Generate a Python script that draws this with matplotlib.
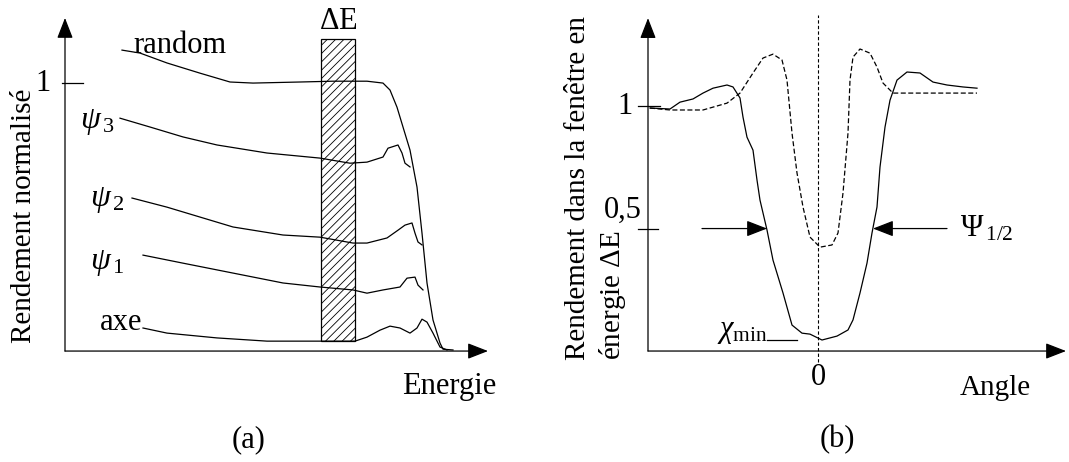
import numpy as np
import matplotlib
matplotlib.use('Agg')
import matplotlib.pyplot as plt
from matplotlib.patches import Rectangle

plt.rcParams['font.family'] = ['Liberation Serif', 'DejaVu Serif']
plt.rcParams['mathtext.fontset'] = 'custom'
plt.rcParams['mathtext.rm'] = 'Liberation Serif'
plt.rcParams['mathtext.it'] = 'Liberation Serif:italic'
plt.rcParams['hatch.linewidth'] = 0.6

# (a) energy spectra, energy in arbitrary units, yield normalised to random
E_random = [57, 75, 102, 135, 165, 188, 235, 268, 302, 318, 325, 332, 338, 345, 352, 357, 362, 368, 375, 378, 388]
Y_random = [1.123, 1.112, 1.075, 1.037, 1.004, 1.0, 1.004, 1.007, 1.007, 1.0, 0.974, 0.910, 0.836, 0.750,
            0.612, 0.440, 0.254, 0.116, 0.030, 0.007, 0.004]
E_psi3 = [55, 85, 118, 152, 202, 255, 285, 302, 318, 323, 333, 337, 340, 345]
Y_psi3 = [0.869, 0.836, 0.799, 0.769, 0.739, 0.720, 0.701, 0.705, 0.724, 0.757, 0.769, 0.739, 0.701, 0.687]
E_psi2 = [67, 102, 135, 168, 218, 255, 288, 302, 322, 333, 340, 347, 350, 353, 357]
Y_psi2 = [0.571, 0.537, 0.5, 0.463, 0.433, 0.425, 0.403, 0.403, 0.422, 0.451, 0.470, 0.478, 0.440, 0.407, 0.396]
E_psi1 = [78, 118, 168, 218, 255, 288, 302, 318, 335, 342, 350, 353, 358]
Y_psi1 = [0.358, 0.328, 0.291, 0.254, 0.239, 0.228, 0.216, 0.228, 0.239, 0.272, 0.276, 0.246, 0.228]
E_axe = [78, 102, 152, 202, 255, 290, 302, 315, 325, 335, 345, 352, 357, 362, 368, 375, 382]
Y_axe = [0.086, 0.067, 0.049, 0.037, 0.037, 0.037, 0.052, 0.078, 0.093, 0.086, 0.067, 0.086, 0.119, 0.108,
         0.067, 0.015, 0.004]
window = [256, 290]  # energy window Delta E

# (b) angular scan, yield in the energy window
A_solid = [-168, -148, -138, -125, -115, -105, -91, -85, -78, -75, -71, -65, -61, -58, -51, -45, -35, -26, -16, -8,
           4, 19, 30, 35, 42, 49, 54, 59, 62, 67, 72, 79, 89, 102, 115, 129, 145, 159]
Y_solid = [0.992, 0.988, 1.016, 1.029, 1.053, 1.073, 1.086, 1.078, 1.033, 0.955, 0.873, 0.820, 0.698, 0.616,
           0.494, 0.371, 0.237, 0.106, 0.073, 0.069, 0.045, 0.061, 0.086, 0.127, 0.237, 0.359, 0.482, 0.588,
           0.751, 0.914, 1.024, 1.106, 1.139, 1.135, 1.098, 1.086, 1.078, 1.073]
A_dash = [-168, -148, -115, -91, -78, -65, -55, -45, -36, -31, -26, -21, -15, -8, 2, 14, 20, 25, 30, 32, 35, 42,
          52, 59, 65, 75, 102, 159]
Y_dash = [0.992, 0.984, 0.984, 1.012, 1.053, 1.135, 1.196, 1.212, 1.188, 1.106, 0.890, 0.727, 0.588, 0.465,
          0.424, 0.433, 0.482, 0.645, 0.890, 1.106, 1.2, 1.233, 1.216, 1.159, 1.094, 1.053, 1.053, 1.053]
psi_half = [-51, 55]  # half width positions at 0.5

fig = plt.figure(figsize=(10.69, 4.62), dpi=100)
lw = 0.9
fs = 22
head = dict(arrowstyle='-|>,head_length=0.9,head_width=0.35', color='k', lw=lw, mutation_scale=14,
            shrinkA=0, shrinkB=0)

# ---------- panel (a)
ax = fig.add_axes([0, 0, 0.5, 1])
ax.set_xlim(-65, 469.5)
ax.set_ylim(-0.414, 1.31)
ax.axis('off')

ax.annotate('', xy=(0, 1.243), xytext=(0, 0), arrowprops=head)
ax.annotate('', xy=(423, 0), xytext=(0, 0), arrowprops=head)
ax.plot([-3, 18], [1, 1], color='k', lw=lw)
ax.text(-22, 1, '1', fontsize=fs, ha='center', va='center')

ax.add_patch(Rectangle((window[0], 0.037), window[1] - window[0], 1.164 - 0.037, facecolor='white',
                       edgecolor='k', hatch='////', lw=lw, zorder=1))
ax.text(np.mean(window), 1.228, r'$\Delta$E', fontsize=fs, ha='center', va='center')

for e, y in [(E_random, Y_random), (E_psi3, Y_psi3), (E_psi2, Y_psi2), (E_psi1, Y_psi1), (E_axe, Y_axe)]:
    ax.plot(e, y, color='k', lw=lw, zorder=3)

ax.text(68, 1.142, 'random', fontsize=fs, ha='left', va='center')
ax.text(15, 0.854, r'$\psi_{\,3}$', fontsize=fs + 1, ha='left', va='center')
ax.text(25, 0.563, r'$\psi_{\,2}$', fontsize=fs + 1, ha='left', va='center')
ax.text(25, 0.328, r'$\psi_{\,1}$', fontsize=fs + 1, ha='left', va='center')
ax.text(35, 0.108, 'axe', fontsize=fs, ha='left', va='center')
ax.text(337, -0.134, 'Energie', fontsize=fs, ha='left', va='center')
ax.text(-41, 0.505, 'Rendement normalisé', fontsize=21, rotation=90, ha='center', va='center')
ax.text(184, -0.332, '(a)', fontsize=fs, ha='center', va='center')

# ---------- panel (b)
bx = fig.add_axes([0.5, 0, 0.5, 1])
bx.set_xlim(-283.5, 251)
bx.set_ylim(-0.453, 1.433)
bx.axis('off')

bx.annotate('', xy=(-170, 1.359), xytext=(-170, 0), arrowprops=head)
bx.annotate('', xy=(248, 0), xytext=(-170, 0), arrowprops=head)
bx.plot([-180, -158], [1, 1], color='k', lw=lw)
bx.plot([-180, -160], [0.5, 0.5], color='k', lw=lw)
bx.text(-193, 1.0, '1', fontsize=fs, ha='center', va='center')
bx.text(-195, 0.576, '0,5', fontsize=fs, ha='center', va='center')
bx.plot([0, 0], [-0.045, 1.371], color='k', lw=0.8, ls=(0, (3, 2)))
bx.text(0, -0.110, '0', fontsize=fs, ha='center', va='center')
bx.text(177, -0.151, 'Angle', fontsize=21, ha='center', va='center')

bx.plot(A_solid, Y_solid, color='k', lw=lw)
bx.plot(A_dash, Y_dash, color='k', lw=lw, ls=(0, (4, 2)))

bx.annotate('', xy=(psi_half[0], 0.5), xytext=(-116, 0.5), arrowprops=head)
bx.annotate('', xy=(psi_half[1], 0.5), xytext=(129, 0.5), arrowprops=head)
bx.text(142, 0.5, r'$\mathrm{\Psi}_{\,1/2}$', fontsize=fs, ha='left', va='center')
bx.text(-101, 0.078, r'$\chi_{\mathrm{min}}$', fontsize=fs, ha='left', va='center')
bx.plot([-51, -21], [0.045, 0.045], color='k', lw=lw)

bx.text(-240, -0.037, 'Rendement dans la fenêtre en', fontsize=21, rotation=90, rotation_mode='anchor',
        ha='left', va='center')
bx.text(-206, -0.037, r'énergie $\Delta$E', fontsize=21, rotation=90, rotation_mode='anchor',
        ha='left', va='center')
bx.text(19, -0.363, '(b)', fontsize=fs, ha='center', va='center')

fig.savefig('out.png', dpi=100)
